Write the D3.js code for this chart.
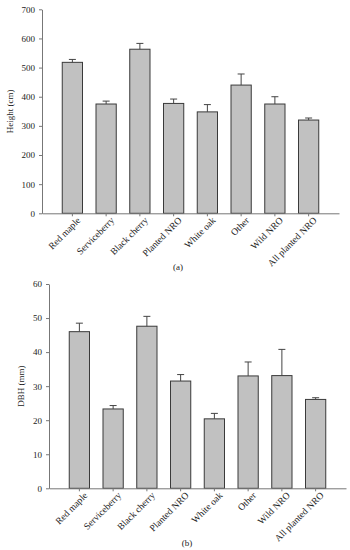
<!DOCTYPE html>
<html>
<head>
<meta charset="utf-8">
<script src="https://cdn.jsdelivr.net/npm/d3@7"></script>
<style>
html,body{margin:0;padding:0;background:#fff;}
svg{display:block;}
text{font-family:"Liberation Serif","Times New Roman",serif;}
</style>
</head>
<body>
<svg id="chart" width="350" height="550"></svg>
<script>
const categories = ["Red maple","Serviceberry","Black cherry","Planted NRO","White oak","Other","Wild NRO","All planted NRO"];
const heightMean = [518, 375, 563, 377, 348, 440, 375, 320];
const heightErr  = [10, 10, 20, 15, 25, 38, 25, 7];
const dbhMean = [46.0, 23.3, 47.6, 31.5, 20.4, 33.0, 33.1, 26.1];
const dbhErr  = [2.5, 1.0, 2.9, 1.9, 1.6, 4.1, 7.7, 0.5];
const heightTicks = [0,100,200,300,400,500,600,700];
const dbhTicks = [0,10,20,30,40,50,60];

const svg = d3.select("#chart");

function panel(cfg){
  const g = svg.append("g");
  const x = d3.scaleBand().domain(categories).range([cfg.x0, cfg.x1]).paddingInner(0.4).paddingOuter(0.6);
  const y = d3.scaleLinear().domain([0, cfg.max]).range([cfg.y0, cfg.y1]);

  g.selectAll("rect.bar").data(categories).enter().append("rect")
    .attr("x", d => x(d))
    .attr("width", x.bandwidth())
    .attr("y", (d,i) => y(cfg.mean[i]))
    .attr("height", (d,i) => y(0) - y(cfg.mean[i]))
    .attr("fill", "#c1c1c1")
    .attr("stroke", "#3a3a3a")
    .attr("stroke-width", 1);

  categories.forEach((d,i) => {
    const cx = x(d) + x.bandwidth()/2;
    g.append("line").attr("x1", cx).attr("x2", cx)
      .attr("y1", y(cfg.mean[i])).attr("y2", y(cfg.mean[i] + cfg.err[i]))
      .attr("stroke", "#444").attr("stroke-width", 1);
    g.append("line").attr("x1", cx - 3.5).attr("x2", cx + 3.5)
      .attr("y1", y(cfg.mean[i] + cfg.err[i])).attr("y2", y(cfg.mean[i] + cfg.err[i]))
      .attr("stroke", "#444").attr("stroke-width", 1);
  });

  const ya = g.append("g").attr("transform", `translate(${cfg.x0},0)`)
    .call(d3.axisLeft(y).tickValues(cfg.ticks).tickSize(3).tickSizeOuter(0).tickPadding(4));
  ya.select(".domain").attr("stroke", "#777");
  ya.selectAll(".tick line").attr("stroke", "#777");
  ya.selectAll(".tick text").attr("font-size", 9).attr("fill", "#222")
    .attr("font-family", "Liberation Serif, serif");

  const xa = g.append("g").attr("transform", `translate(0,${cfg.y0})`)
    .call(d3.axisBottom(x).tickSize(3).tickSizeOuter(0));
  xa.select(".domain").attr("stroke", "#777");
  xa.selectAll(".tick line").attr("stroke", "#777");
  xa.selectAll(".tick text")
    .attr("font-size", 9.5).attr("fill", "#222")
    .attr("font-family", "Liberation Serif, serif")
    .attr("text-anchor", "end")
    .attr("transform", "translate(4,3) rotate(-45)")
    .attr("dy", "0.7em").attr("y", 0).attr("x", 0);

  g.append("text")
    .attr("transform", `translate(${cfg.labelX},${(cfg.y0 + cfg.y1)/2}) rotate(-90)`)
    .attr("text-anchor", "middle").attr("dy", "0.35em")
    .attr("font-size", 9).attr("fill", "#222")
    .text(cfg.ylabel);

  g.append("text")
    .attr("x", cfg.tagX).attr("y", cfg.tagY)
    .attr("text-anchor", "middle")
    .attr("font-size", 9).attr("fill", "#222")
    .text(cfg.tag);
}

panel({x0:42, x1:339, y0:213.3, y1:9.3, max:700, mean:heightMean, err:heightErr, ticks:heightTicks,
       ylabel:"Height (cm)", labelX:10, tag:"(a)", tagX:178, tagY:270});
panel({x0:49, x1:346, y0:488.3, y1:284, max:60, mean:dbhMean, err:dbhErr, ticks:dbhTicks,
       ylabel:"DBH (mm)", labelX:21, tag:"(b)", tagX:187, tagY:546});
</script>
</body>
</html>
